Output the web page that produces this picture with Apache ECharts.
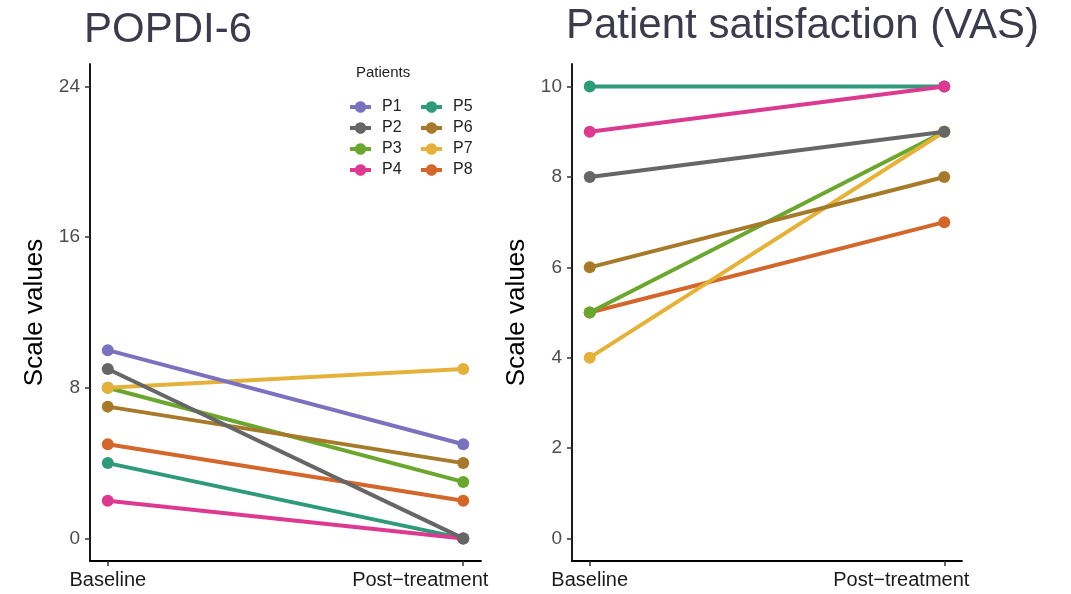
<!DOCTYPE html>
<html>
<head>
<meta charset="utf-8">
<script src="https://cdn.jsdelivr.net/npm/echarts@6/dist/echarts.min.js"></script>
<style>
html,body{margin:0;padding:0;background:#fff;}
#c{width:1071px;height:594px;}
</style>
</head>
<body>
<div id="c"></div>
<script>
// ---- data ----
var categories = ['Baseline', 'Post\u2212treatment'];
var patients = ['P1', 'P2', 'P3', 'P4', 'P5', 'P6', 'P7', 'P8'];
var popdiBaseline = [10, 9, 8, 2, 4, 7, 8, 5];
var popdiPost     = [5, 0, 3, 0, 0, 4, 9, 2];
var vasBaseline   = [null, 8, 5, 9, 10, 6, 4, 5];
var vasPost       = [null, 9, 9, 10, 10, 8, 9, 7];
var popdiTicks = [0, 8, 16, 24];
var vasTicks = [0, 2, 4, 6, 8, 10];

// ---- styles ----
var colors = ['#7a72bf', '#666666', '#6ba72f', '#dc3a90', '#2f9a78', '#a67a2a', '#e4b23a', '#d3662a'];
var zRank = [7, 8, 3, 5, 1, 6, 4, 2];
var FONT = '"Liberation Sans", Arial, sans-serif';

var chart = echarts.init(document.getElementById('c'), null, {renderer: 'canvas'});

function xAxisFor(gi) {
  return {
    gridIndex: gi, type: 'value', min: -0.05, max: 1.05,
    axisLine: {show: true, onZero: false, lineStyle: {color: '#000', width: 1.8}},
    axisTick: {show: true, customValues: [0, 1], length: 5, lineStyle: {color: '#333', width: 1.5}},
    axisLabel: {
      customValues: [0, 1], margin: 9, fontFamily: FONT, fontSize: 20, color: '#1a1a1a',
      formatter: function (v) {
        var i = Math.round(v);
        return i === 1 ? '{post|' + categories[i] + '}' : categories[i];
      },
      rich: {post: {fontFamily: FONT, fontSize: 20, color: '#1a1a1a', padding: [0, 86, 0, 0]}}
    },
    splitLine: {show: false}
  };
}
function yAxisFor(gi, min, max, ticks) {
  return {
    gridIndex: gi, type: 'value', min: min, max: max,
    name: 'Scale values', nameLocation: 'middle', nameGap: 42, nameRotate: 90,
    nameTextStyle: {fontFamily: FONT, fontSize: 26, color: '#000'},
    axisLine: {show: true, onZero: false, lineStyle: {color: '#000', width: 1.8}},
    axisTick: {show: true, customValues: ticks, length: 5, lineStyle: {color: '#333', width: 1.5}},
    axisLabel: {customValues: ticks, margin: 10, fontFamily: FONT, fontSize: 19, color: '#4d4d4d'},
    splitLine: {show: false}
  };
}

var series = [];
patients.forEach(function (p, i) {
  var common = {
    name: p, type: 'line', symbol: 'circle', symbolSize: 12,
    z: 2 + zRank[i], silent: true, animation: false,
    itemStyle: {color: colors[i]},
    lineStyle: {color: colors[i], width: 4}
  };
  series.push(Object.assign({}, common, {
    xAxisIndex: 0, yAxisIndex: 0,
    data: [[0, popdiBaseline[i]], [1, popdiPost[i]]]
  }));
  if (vasBaseline[i] !== null) {
    series.push(Object.assign({}, common, {
      xAxisIndex: 1, yAxisIndex: 1,
      data: [[0, vasBaseline[i]], [1, vasPost[i]]]
    }));
  }
});

var icon = 'path://M0,4 L5.343,4 A6,6 0 0,1 16.657,4 L22,4 L22,8 L16.657,8 A6,6 0 0,1 5.343,8 L0,8 Z';
function legendFor(names, left) {
  return {
    orient: 'vertical', left: left, top: 99, padding: 0, itemGap: 5,
    itemWidth: 21, itemHeight: 12, icon: icon, selectedMode: false,
    textStyle: {fontFamily: FONT, fontSize: 16, color: '#222', padding: [0, 0, 0, 6]},
    data: names
  };
}

chart.setOption({
  animation: false,
  backgroundColor: '#fff',
  title: [
    {text: 'POPDI-6', left: 79, top: 4, textStyle: {fontFamily: FONT, fontSize: 42, fontWeight: 'normal', color: '#3b3b4b'}},
    {text: 'Patient satisfaction (VAS)', left: 561, top: 0, textStyle: {fontFamily: FONT, fontSize: 42, fontWeight: 'normal', color: '#3b3b4b'}},
    {text: 'Patients', left: 351, top: 60, textStyle: {fontFamily: FONT, fontSize: 15, fontWeight: 'normal', color: '#222'}}
  ],
  legend: [legendFor(patients.slice(0, 4), 350), legendFor(patients.slice(4), 421)],
  grid: [
    {left: 90, right: 590, top: 64, bottom: 33},
    {left: 572, right: 109, top: 64, bottom: 33}
  ],
  xAxis: [xAxisFor(0), xAxisFor(1)],
  yAxis: [yAxisFor(0, -1.2, 25.2, popdiTicks), yAxisFor(1, -0.5, 10.5, vasTicks)],
  series: series
});
</script>
</body>
</html>
